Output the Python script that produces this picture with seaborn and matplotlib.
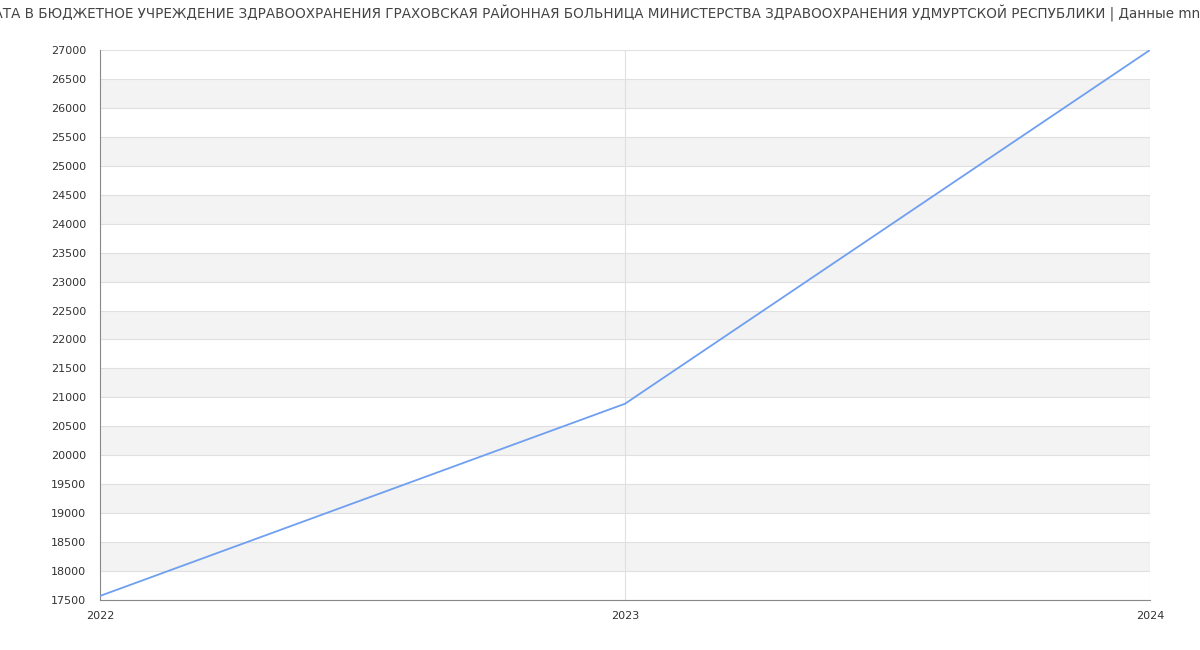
import matplotlib
matplotlib.use("Agg")
import matplotlib.pyplot as plt
import seaborn as sns
import pandas as pd

years = [2022, 2023, 2024]
salary = [17570, 20890, 27000]
title = ("СРЕДНЯЯ ЗАРПЛАТА В БЮДЖЕТНОЕ УЧРЕЖДЕНИЕ ЗДРАВООХРАНЕНИЯ ГРАХОВСКАЯ РАЙОННАЯ БОЛЬНИЦА "
         "МИНИСТЕРСТВА ЗДРАВООХРАНЕНИЯ УДМУРТСКОЙ РЕСПУБЛИКИ | Данные mnogo-zarplat.ru")
hidden_prefix = "СРЕДНЯЯ ЗАРПЛА"

sns.set_theme(style="white")
plt.rcParams['font.family'] = ['DejaVu Sans']

df = pd.DataFrame({"year": years, "salary": salary})

fig = plt.figure(figsize=(12, 6.5), dpi=100)
ax = fig.add_axes([100/1200, 1-600/650, 1050/1200, 550/650])

ymin, ymax = 17500, 27000
for lo in range(18000, 27000, 1000):
    ax.axhspan(lo, lo + 500, color="#f3f3f3", zorder=0, lw=0)
for v in range(ymin, ymax + 1, 500):
    ax.axhline(v, color="#e0e0e0", lw=0.8, zorder=1)
for x in years[1:]:
    ax.axvline(x, color="#e0e0e0", lw=0.8, zorder=1)

sns.lineplot(data=df, x="year", y="salary", ax=ax, color="#6f9ff0", lw=1.3, zorder=3)

ax.set_xlim(2022, 2024)
ax.set_ylim(ymin, ymax)
ax.set_xticks(years)
ax.set_xticklabels([str(y) for y in years])
ax.set_yticks(range(ymin, ymax + 1, 500))
ax.set_xlabel("")
ax.set_ylabel("")
ax.tick_params(axis="both", labelsize=8, colors="#333333", length=0)
ax.tick_params(axis="x", pad=8)
ax.tick_params(axis="y", pad=10)
for s in ["top", "right"]:
    ax.spines[s].set_visible(False)
for s in ["left", "bottom"]:
    ax.spines[s].set_color("#888888")
    ax.spines[s].set_linewidth(0.8)

fs = 9.72
renderer = fig.canvas.get_renderer()
probe = fig.text(0, 0, hidden_prefix + "Т", fontsize=fs)
probe2 = fig.text(0, 0, "Т", fontsize=fs)
w = probe.get_window_extent(renderer).width - probe2.get_window_extent(renderer).width
probe.remove()
probe2.remove()
fig.text((-w + 3) / 1200, 1 - 14/650, title, ha="left", va="center",
         fontsize=fs, color="#444444")

fig.savefig("out.png", dpi=100)
